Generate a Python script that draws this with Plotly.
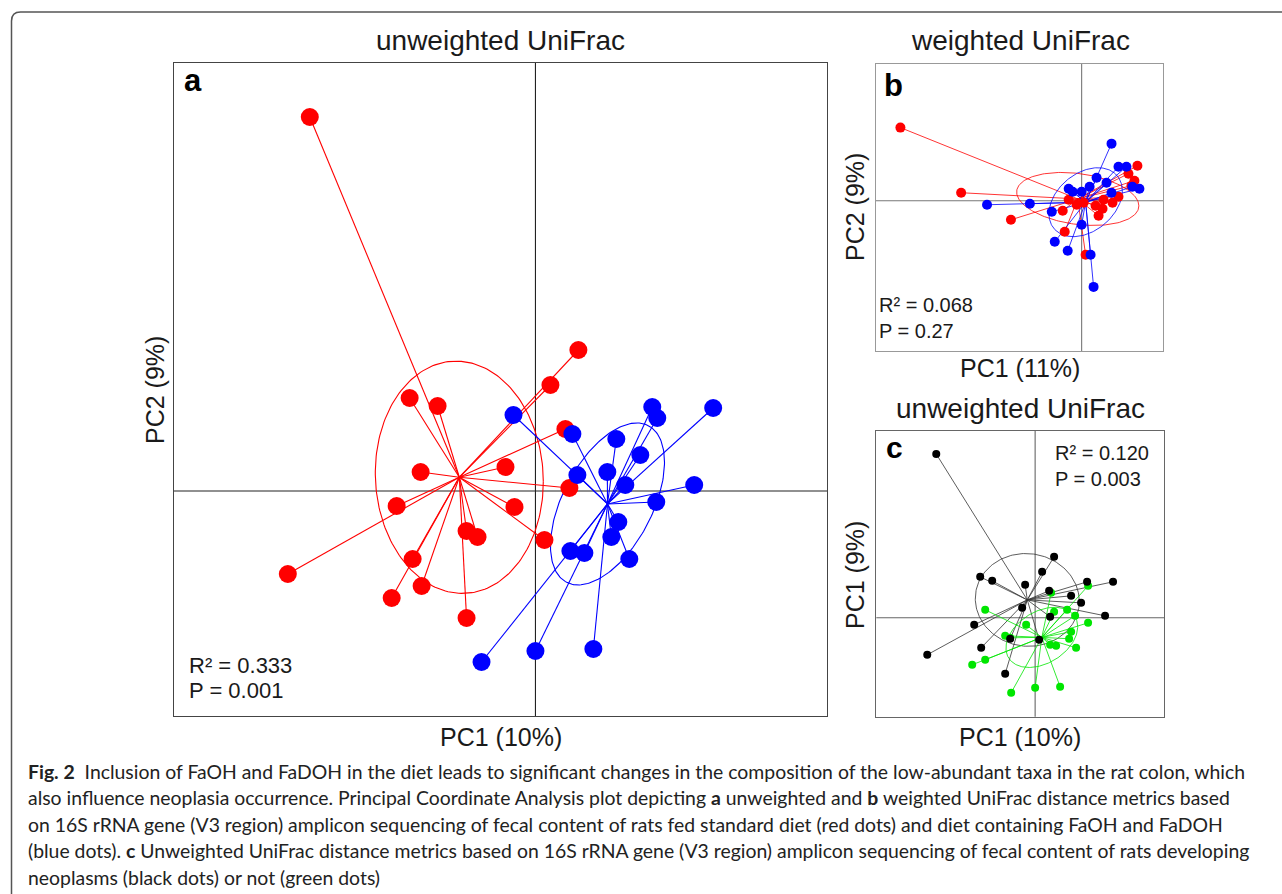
import numpy as np
import plotly.graph_objects as go

W, H = 1282, 894

# ---------------- Panel a: unweighted UniFrac (diet) ----------------
a_red_pc1 = [-0.226, 0.043, 0.015, -0.126, -0.098, 0.030, -0.115, -0.030, 0.034, -0.139,
             -0.021, -0.069, -0.058, 0.009, -0.248, -0.123, -0.114, -0.144, -0.069]
a_red_pc2 = [0.374, 0.141, 0.106, 0.093, 0.085, 0.062, 0.019, 0.024, 0.003, -0.015,
             -0.016, -0.040, -0.046, -0.049, -0.083, -0.068, -0.095, -0.107, -0.127]
a_blue_pc1 = [-0.022, 0.037, 0.081, 0.117, 0.122, 0.178, 0.105, 0.072, 0.042, 0.090,
              0.159, 0.121, 0.083, 0.076, 0.035, 0.049, 0.094, 0.000, 0.058, -0.054]
a_blue_pc2 = [0.076, 0.057, 0.052, 0.084, 0.073, 0.083, 0.036, 0.019, 0.016, 0.006,
              0.006, -0.011, -0.031, -0.046, -0.060, -0.062, -0.068, -0.160, -0.158, -0.171]

# ---------------- Panel b: weighted UniFrac (diet) ----------------
b_red_pc1 = [-0.182, -0.121, -0.071, 0.056, 0.047, 0.053, 0.037, 0.031, 0.022, 0.021,
             0.014, 0.017, -0.013, -0.005, -0.019, -0.017, 0.004, 0.050, 0.002]
b_red_pc2 = [0.073, 0.008, -0.019, 0.035, 0.027, 0.020, 0.004, -0.002, 0.001, -0.008,
             -0.005, -0.015, 0.001, -0.004, -0.010, -0.031, -0.054, 0.015, -0.002]
b_blue_pc1 = [0.030, 0.037, 0.045, 0.015, 0.025, 0.008, -0.013, -0.009, 0.000, 0.030,
              0.051, 0.058, -0.095, -0.052, -0.030, 0.000, -0.027, -0.014, 0.009, 0.012]
b_blue_pc2 = [0.057, 0.034, 0.034, 0.023, 0.018, 0.014, 0.012, 0.009, 0.009, 0.008,
              0.014, 0.012, -0.004, -0.003, -0.011, -0.024, -0.041, -0.050, -0.054, -0.086]

# ---------------- Panel c: unweighted UniFrac (neoplasia) ----------------
c_black_pc1 = [0.019, 0.007, -0.055, -0.043, -0.010, 0.052, 0.078, 0.014, 0.036, 0.046,
               0.070, -0.013, 0.015, -0.061, -0.025, 0.004, -0.054, -0.108, -0.030, -0.099]
c_black_pc2 = [0.061, 0.046, 0.041, 0.037, 0.033, 0.036, 0.036, 0.027, 0.022, 0.015,
               0.002, 0.010, 0.001, -0.007, -0.021, -0.022, -0.030, -0.037, -0.056, 0.164]
c_green_pc1 = [-0.050, -0.009, -0.030, 0.016, 0.053, 0.019, 0.032, 0.040, 0.053, 0.036,
               0.034, 0.015, 0.021, 0.041, -0.050, -0.063, -0.024, 0.000, 0.025, -0.025]
c_green_pc2 = [0.008, -0.007, -0.018, 0.025, 0.032, 0.006, 0.008, 0.002, -0.005, -0.014,
               -0.021, -0.027, -0.028, -0.030, -0.042, -0.047, -0.075, -0.070, -0.069, -0.020]

# axis ranges (PC units)
a_x_range, a_y_range = [-0.362, 0.292], [-0.225, 0.428]
b_x_range, b_y_range = [-0.207, 0.082], [-0.150, 0.137]
c_x_range, c_y_range = [-0.159, 0.129], [-0.099, 0.187]

RED, BLUE, BLACK, GREEN = "#ff0000", "#0000ff", "#000000", "#00e600"
FONT = "Liberation Sans, Arial, sans-serif"


def sd_ellipse(x, y, n=200):
    x = np.asarray(x, float); y = np.asarray(y, float)
    cx, cy = x.mean(), y.mean()
    L = np.linalg.cholesky(np.cov(x, y))
    t = np.linspace(0, 2 * np.pi, n)
    p = L @ np.vstack([np.cos(t), np.sin(t)])
    return cx + p[0], cy + p[1]


def spider(x, y):
    cx, cy = float(np.mean(x)), float(np.mean(y))
    xs, ys = [], []
    for xi, yi in zip(x, y):
        xs += [cx, xi, None]
        ys += [cy, yi, None]
    return xs, ys


fig = go.Figure()


def axes_of(ax):
    return ("x", "y") if ax == 1 else (f"x{ax}", f"y{ax}")


def add_group(x, y, color, lw, ax):
    xa, ya = axes_of(ax)
    ex, ey = sd_ellipse(x, y)
    fig.add_trace(go.Scatter(x=ex, y=ey, mode="lines", line=dict(color=color, width=lw),
                             xaxis=xa, yaxis=ya, hoverinfo="skip", showlegend=False))
    sx, sy = spider(x, y)
    fig.add_trace(go.Scatter(x=sx, y=sy, mode="lines", line=dict(color=color, width=lw),
                             xaxis=xa, yaxis=ya, hoverinfo="skip", showlegend=False))


def add_points(x, y, color, size, ax):
    xa, ya = axes_of(ax)
    fig.add_trace(go.Scatter(x=x, y=y, mode="markers",
                             marker=dict(color=color, size=size, line=dict(width=0)),
                             xaxis=xa, yaxis=ya, showlegend=False))


# panel a
add_group(a_red_pc1, a_red_pc2, RED, 1.1, 1)
add_group(a_blue_pc1, a_blue_pc2, BLUE, 1.1, 1)
add_points(a_red_pc1, a_red_pc2, RED, 18, 1)
add_points(a_blue_pc1, a_blue_pc2, BLUE, 18, 1)
# panel b
add_group(b_red_pc1, b_red_pc2, RED, 0.8, 2)
add_group(b_blue_pc1, b_blue_pc2, BLUE, 0.8, 2)
add_points(b_red_pc1, b_red_pc2, RED, 10, 2)
add_points(b_blue_pc1, b_blue_pc2, BLUE, 10, 2)
# panel c
add_group(c_black_pc1, c_black_pc2, "#333333", 0.8, 3)
add_group(c_green_pc1, c_green_pc2, GREEN, 0.8, 3)
add_points(c_green_pc1, c_green_pc2, GREEN, 8, 3)
add_points(c_black_pc1, c_black_pc2, BLACK, 8, 3)


def px(x):
    return x / W


def py(y):
    return 1 - y / H


def axis_style(rng, dom, color, anchor):
    return dict(range=rng, domain=dom, anchor=anchor, showticklabels=False, ticks="",
                showgrid=False, zeroline=False, showline=True, mirror=True,
                linecolor=color, linewidth=1.2, fixedrange=True)


fig.update_layout(
    xaxis=axis_style(a_x_range, [px(174), px(827)], "#444444", "y"),
    yaxis=axis_style(a_y_range, [py(716), py(63)], "#444444", "x"),
    xaxis2=axis_style(b_x_range, [px(875.5), px(1163.3)], "#999999", "y2"),
    yaxis2=axis_style(b_y_range, [py(351), py(63.5)], "#999999", "x2"),
    xaxis3=axis_style(c_x_range, [px(876.3), px(1164)], "#666666", "y3"),
    yaxis3=axis_style(c_y_range, [py(716.7), py(431)], "#666666", "x3"),
)

# crossing lines at the origin
shapes = []
for i, col in ((1, "#222222"), (2, "#777777"), (3, "#666666")):
    xr, yr = axes_of(i)
    shapes.append(dict(type="line", xref=xr, yref=f"{yr} domain", x0=0, x1=0, y0=0, y1=1,
                       line=dict(color=col, width=1.1), layer="below"))
    shapes.append(dict(type="line", xref=f"{xr} domain", yref=yr, x0=0, x1=1, y0=0, y1=0,
                       line=dict(color=col, width=1.1), layer="below"))

# outer frame (rounded top-left corner)
x0, yt, r = 11.5, 12, 9
path = (f"M {px(x0)},{py(900)} L {px(x0)},{py(yt + r)} "
        f"Q {px(x0)},{py(yt)} {px(x0 + r)},{py(yt)} L {px(1290)},{py(yt)}")
shapes.append(dict(type="path", xref="paper", yref="paper", path=path,
                   line=dict(color="#555555", width=1.5)))
fig.update_layout(shapes=shapes)

ann = []


def text(t, x, y, size, xanchor="center", yanchor="middle", angle=0, bold=False, font=FONT,
         color="#1a1a1a"):
    if bold:
        t = f"<b>{t}</b>"
    ann.append(dict(text=t, x=px(x), y=py(y), xref="paper", yref="paper", showarrow=False,
                    xanchor=xanchor, yanchor=yanchor, textangle=angle,
                    font=dict(family=font, size=size, color=color)))


# titles
text("unweighted UniFrac", 500, 40, 28)
text("weighted UniFrac", 1020, 40, 28)
text("unweighted UniFrac", 1020, 408, 28)
# axis labels
text("PC1 (10%)", 501, 737, 25)
text("PC2 (9%)", 155, 390, 25, angle=-90)
text("PC2 (9%)", 855, 207, 25, angle=-90)
text("PC1 (11%)", 1020, 368, 25)
text("PC1 (9%)", 855, 575, 25, angle=-90)
text("PC1 (10%)", 1020, 737, 25)
# panel letters
text("a", 182, 80, 31, xanchor="left", bold=True, color="#000")
text("b", 882, 85, 31, xanchor="left", bold=True, color="#000")
text("c", 884, 447, 30, xanchor="left", bold=True, color="#000")
# statistics
text("R² = 0.333", 187, 665, 22, xanchor="left")
text("P = 0.001", 187, 690, 22, xanchor="left")
text("R² = 0.068", 877, 305, 20, xanchor="left")
text("P = 0.27", 877, 331, 20, xanchor="left")
text("R² = 0.120", 1053, 453, 20, xanchor="left")
text("P = 0.003", 1053, 479, 20, xanchor="left")

# caption
CAP = "Lato, Noto Sans, sans-serif"
caption_lines = [
    "<b>Fig. 2</b>  Inclusion of FaOH and FaDOH in the diet leads to significant changes in the composition of the low-abundant taxa in the rat colon, which",
    "also influence neoplasia occurrence. Principal Coordinate Analysis plot depicting <b>a</b> unweighted and <b>b</b> weighted UniFrac distance metrics based",
    "on 16S rRNA gene (V3 region) amplicon sequencing of fecal content of rats fed standard diet (red dots) and diet containing FaOH and FaDOH",
    "(blue dots). <b>c</b> Unweighted UniFrac distance metrics based on 16S rRNA gene (V3 region) amplicon sequencing of fecal content of rats developing",
    "neoplasms (black dots) or not (green dots)",
]
for i, line in enumerate(caption_lines):
    text(line, 26, 771 + 26.5 * i, 19.4, xanchor="left", font=CAP, color="#222222")

fig.update_layout(annotations=ann, width=W, height=H, margin=dict(l=0, r=0, t=0, b=0),
                  paper_bgcolor="white", plot_bgcolor="white", showlegend=False)

fig.write_html("out.html", config={"displayModeBar": False},
               post_script="document.body.style.margin='0';")
